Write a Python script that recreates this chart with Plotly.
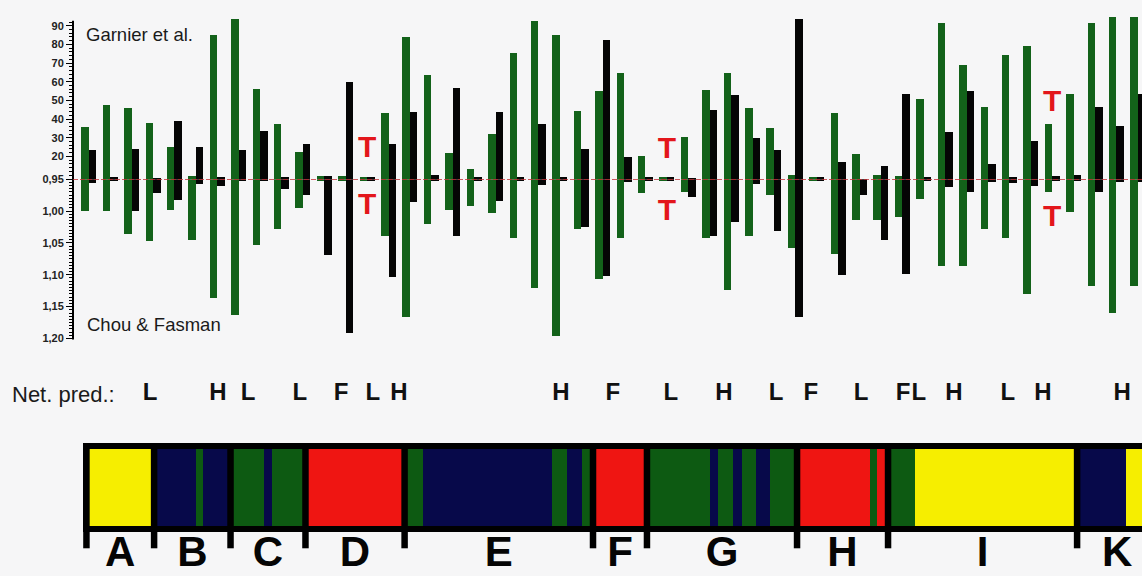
import plotly.graph_objects as go

# ---------------------------------------------------------------------------
# Data: secondary-structure scores per sequence window
# upper scale = Garnier et al. (%), lower scale = Chou & Fasman (<P>)
# ---------------------------------------------------------------------------
positions = list(range(1, 51))

green_garnier = [35.9, 47.6, 46.0, 38.0, 25.3, 9.4, 85.2, 93.7, 56.1, 37.5,
                 22.1, 9.4, 9.4, 8.9, 43.3, 84.2, 63.5, 21.6, 13.1, 32.2,
                 75.2, 92.7, 85.2, 44.4, 55.0, 64.5, 20.0, 8.9, 30.6, 55.5,
                 64.5, 46.0, 35.4, 9.9, 8.9, 43.3, 21.1, 9.9, 9.4, 50.8,
                 91.6, 68.8, 46.5, 74.6, 79.4, 37.5, 53.4, 91.6, 94.8, 94.8]
green_chou = [1.000, 1.000, 1.037, 1.048, 0.998, 1.046, 1.136, 1.164, 1.054, 1.028,
              0.995, 0.953, 0.953, 0.953, 1.039, 1.166, 1.021, 0.998, 0.993, 1.003,
              1.042, 1.121, 1.197, 1.029, 1.107, 1.043, 0.972, 0.953, 0.970, 1.043,
              1.124, 1.040, 0.975, 1.059, 0.953, 1.068, 1.014, 1.015, 1.009, 0.981,
              1.087, 1.087, 1.029, 1.042, 1.130, 0.970, 1.001, 1.118, 1.160, 1.118]

black_garnier = [23.2, 8.9, 24.2, 8.3, 39.1, 25.3, 8.9, 23.2, 33.8, 8.9,
                 26.4, 9.4, 59.8, 8.9, 26.4, 43.9, 9.9, 56.6, 8.9, 43.9,
                 8.9, 37.5, 8.9, 24.2, 82.6, 19.5, 8.9, 8.9, 8.3, 44.9,
                 52.9, 30.1, 23.7, 93.7, 8.9, 16.8, 7.8, 14.7, 53.4, 8.9,
                 33.3, 55.0, 15.8, 8.9, 28.5, 9.4, 9.9, 46.5, 36.4, 53.4]
black_chou = [0.956, 0.953, 1.000, 0.972, 0.983, 0.958, 0.961, 0.952, 0.953, 0.966,
              0.975, 1.070, 1.191, 0.953, 1.104, 0.986, 0.953, 1.040, 0.953, 0.984,
              0.952, 0.959, 0.953, 1.026, 1.102, 0.955, 0.953, 0.953, 0.978, 1.039,
              1.018, 0.958, 1.031, 1.166, 0.953, 1.101, 0.975, 1.045, 1.099, 0.953,
              0.962, 0.970, 0.955, 0.956, 0.961, 0.953, 0.953, 0.970, 0.955, 0.955]

# predicted turns
turn_positions = [14, 28, 46]
turn_garnier = [23.7, 23.4, 48.4]
turn_chou = [0.993, 1.003, 1.011]

# neural-network prediction
net_pred_positions = [3.86, 7.03, 8.44, 10.86, 12.78, 14.27, 15.49, 23.05, 25.48, 28.19,
                      30.67, 33.10, 34.73, 37.07, 39.03, 39.77, 41.41, 43.93, 45.57, 49.26]
net_pred_labels = ["L", "H", "L", "L", "F", "L", "H", "H", "F", "L",
                   "H", "L", "F", "L", "F", "L", "H", "L", "H", "H"]

# structural class strip
segment_starts = [0.89, 4.05, 6.00, 6.33, 7.62, 9.18, 9.56, 11.12, 15.75, 16.61,
                  22.63, 23.33, 24.04, 24.55, 27.07, 30.01, 30.39, 31.09, 31.51, 32.16,
                  32.82, 34.08, 37.49, 37.81, 38.33, 39.59, 47.16, 49.44]
segment_ends = segment_starts[1:] + [51.0]
segment_classes = ["a", "b", "c", "b", "c", "b", "c", "d", "c", "b",
                   "c", "b", "c", "d", "c", "b", "c", "b", "c", "b",
                   "c", "d", "c", "d", "c", "a", "b", "a"]

# domains
domain_bounds = [0.89, 4.05, 7.62, 11.12, 15.75, 24.55, 27.07, 34.08, 38.33, 47.16, 50.9]
domain_names = ["A", "B", "C", "D", "E", "F", "G", "H", "I", "K"]

# ---------------------------------------------------------------------------
# Styling / geometry
# ---------------------------------------------------------------------------
W, H = 1142, 576
BG = "#f6f6f7"
GREEN = "#13621a"
BLACK = "#050505"
RED_T = "#e3161b"
CLASS_COLORS = {"a": "#f6ee00", "b": "#07094a", "c": "#0d5a12", "d": "#ef1512"}
FONT = "Liberation Sans, Arial, Helvetica, sans-serif"

G_BASE = 7.8            # Garnier value at the shared baseline
C_BASE = 0.95           # Chou & Fasman value at the shared baseline
BAR_W = 0.35

AXIS_PX = 73
BASE_PX = 175
LOWER_PX = 345
G_PER_PX = 10 / 18.857
C_PER_PX = 1 / 644.0
X0_PX, X_STEP = 67.39, 21.41


def paper_y(p):
    return (H - p) / H


x_range = [(AXIS_PX - X0_PX) / X_STEP, (W - X0_PX) / X_STEP]
y_upper_range = [G_BASE, G_BASE + BASE_PX * G_PER_PX]
y_lower_range = [C_BASE + (LOWER_PX - BASE_PX) * C_PER_PX, C_BASE]
STRIP_PX, STRIP_UNIT = 487, 78.0
y_strip_range = [-(H - STRIP_PX) / STRIP_UNIT, (STRIP_PX - LOWER_PX) / STRIP_UNIT]


def strip_y(p):
    return (STRIP_PX - p) / STRIP_UNIT


fig = go.Figure()

for xs_off, color, tops, bots in [(-BAR_W / 2, GREEN, green_garnier, green_chou),
                                  (BAR_W / 2, BLACK, black_garnier, black_chou)]:
    xs = [p + xs_off for p in positions]
    fig.add_trace(go.Bar(x=xs, y=[t - G_BASE for t in tops], base=G_BASE, width=BAR_W,
                         marker=dict(color=color, line=dict(width=0)),
                         xaxis="x", yaxis="y", showlegend=False))
    fig.add_trace(go.Bar(x=xs, y=[b - C_BASE for b in bots], base=C_BASE, width=BAR_W,
                         marker=dict(color=color, line=dict(width=0)),
                         xaxis="x", yaxis="y2", showlegend=False))

# turn markers
fig.add_trace(go.Scatter(x=turn_positions, y=turn_garnier, mode="text", text=["T"] * len(turn_positions),
                         textfont=dict(family=FONT, size=30, color=RED_T, weight="bold"),
                         xaxis="x", yaxis="y", showlegend=False, cliponaxis=False))
fig.add_trace(go.Scatter(x=turn_positions, y=turn_chou, mode="text", text=["T"] * len(turn_positions),
                         textfont=dict(family=FONT, size=30, color=RED_T, weight="bold"),
                         xaxis="x", yaxis="y2", showlegend=False, cliponaxis=False))

# class strip: black frame then coloured segments
fig.add_trace(go.Bar(orientation="h", y=[0], x=[52 - 0.73], base=[0.73], width=90 / STRIP_UNIT,
                     marker=dict(color="black", line=dict(width=0)),
                     xaxis="x", yaxis="y3", showlegend=False))
fig.add_trace(go.Bar(orientation="h", y=[0] * len(segment_starts),
                     x=[e - s for s, e in zip(segment_starts, segment_ends)], base=segment_starts,
                     width=1.0,
                     marker=dict(color=[CLASS_COLORS[c] for c in segment_classes], line=dict(width=0)),
                     xaxis="x", yaxis="y3", showlegend=False))

# net prediction letters
fig.add_trace(go.Scatter(x=net_pred_positions, y=[strip_y(392.5)] * len(net_pred_positions),
                         mode="text", text=net_pred_labels,
                         textfont=dict(family=FONT, size=24, color="#111", weight="bold"),
                         xaxis="x", yaxis="y3", showlegend=False, cliponaxis=False))

# domain letters
domain_centers = [(a + b) / 2 for a, b in zip(domain_bounds[:-1], domain_bounds[1:])]
fig.add_trace(go.Scatter(x=domain_centers, y=[strip_y(555)] * len(domain_centers),
                         mode="text", text=domain_names,
                         textfont=dict(family=FONT, size=42, color="#050505", weight="bold"),
                         xaxis="x", yaxis="y3", showlegend=False, cliponaxis=False))

shapes = []
# domain dividers with ticks below the strip
for b in domain_bounds[:-1]:
    shapes.append(dict(type="line", xref="x", yref="y3", x0=b, x1=b,
                       y0=strip_y(442), y1=strip_y(548),
                       line=dict(color="black", width=6.5), layer="above"))
# vertical axis line
shapes.append(dict(type="line", xref="paper", yref="paper", x0=AXIS_PX / W, x1=AXIS_PX / W,
                   y0=paper_y(15), y1=paper_y(337), line=dict(color="black", width=2)))
# baseline
shapes.append(dict(type="line", xref="paper", yref="y2", x0=AXIS_PX / W, x1=1, y0=C_BASE, y1=C_BASE,
                   line=dict(color="#c0262b", width=1.4, dash="5px,2px"), layer="above"))

annotations = [
    dict(text="Garnier et al.", xref="paper", yref="paper", x=84 / W, y=paper_y(28.5),
         xanchor="left", yanchor="middle", showarrow=False,
         font=dict(family=FONT, size=18.5, color="#1a1a1a")),
    dict(text="Chou &amp; Fasman", xref="paper", yref="paper", x=85 / W, y=paper_y(322),
         xanchor="left", yanchor="middle", showarrow=False,
         font=dict(family=FONT, size=18.5, color="#1a1a1a")),
    dict(text="Net. pred.:", xref="paper", yref="paper", x=63.5 / W, y=paper_y(393),
         xanchor="center", yanchor="middle", showarrow=False,
         font=dict(family=FONT, size=22, color="#1a1a1a")),
]

tickfont = dict(family=FONT, size=11, color="#222222", weight="bold")

fig.update_layout(
    width=W, height=H,
    margin=dict(l=0, r=0, t=0, b=0),
    paper_bgcolor=BG, plot_bgcolor=BG,
    barmode="overlay", bargap=0,
    showlegend=False,
    xaxis=dict(domain=[AXIS_PX / W, 1], range=x_range, visible=False, anchor="y"),
    yaxis=dict(domain=[paper_y(BASE_PX), 1], range=y_upper_range, anchor="x",
               tickmode="array", tickvals=[20, 30, 40, 50, 60, 70, 80, 90],
               ticks="outside", ticklen=6, tickwidth=1, tickcolor="black",
               tickfont=tickfont, showgrid=False, zeroline=False, showline=False,
               minor=dict(tickmode="array", tickvals=list(range(10, 93, 2)),
                          ticks="outside", ticklen=3, tickwidth=1, tickcolor="black",
                          showgrid=False)),
    yaxis2=dict(domain=[paper_y(LOWER_PX), paper_y(BASE_PX)], range=y_lower_range, anchor="x",
                tickmode="array", tickvals=[0.95, 1.00, 1.05, 1.10, 1.15, 1.20],
                ticktext=["0,95", "1,00", "1,05", "1,10", "1,15", "1,20"],
                ticks="outside", ticklen=6, tickwidth=1, tickcolor="black",
                tickfont=tickfont, showgrid=False, zeroline=False, showline=False,
                minor=dict(tickmode="array",
                           tickvals=[round(0.95 + 0.005 * k, 3) for k in range(1, 51)],
                           ticks="outside", ticklen=3, tickwidth=1, tickcolor="black",
                           showgrid=False)),
    yaxis3=dict(domain=[0, paper_y(LOWER_PX)], range=y_strip_range, visible=False, anchor="x"),
    shapes=shapes,
    annotations=annotations,
)

fig.write_html("out.html")
